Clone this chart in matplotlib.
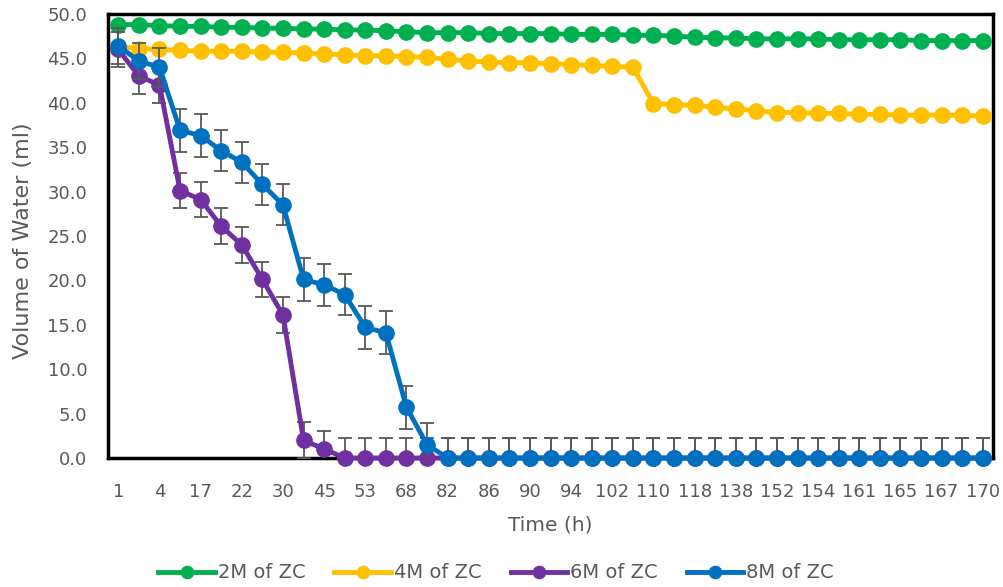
import matplotlib.pyplot as plt
import numpy as np

plt.rcParams['font.family'] = ['DejaVu Sans']

# time categories (only every other one is labelled on the axis)
time_h = [1, 3, 4, 10, 17, 20, 22, 26, 30, 40, 45, 50, 53, 60, 68, 76, 82, 84,
          86, 88, 90, 92, 94, 98, 102, 106, 110, 114, 118, 130, 138, 146, 152,
          153, 154, 158, 161, 163, 165, 166, 167, 168, 170]

zc_2m = [48.8, 48.8, 48.7, 48.6, 48.6, 48.5, 48.5, 48.4, 48.4, 48.3, 48.3,
         48.2, 48.2, 48.1, 48.0, 47.9, 47.9, 47.9, 47.8, 47.8, 47.8, 47.8,
         47.7, 47.7, 47.7, 47.6, 47.6, 47.5, 47.4, 47.3, 47.3, 47.2, 47.2,
         47.2, 47.2, 47.1, 47.1, 47.1, 47.1, 47.0, 47.0, 47.0, 47.0]

zc_4m = [46.3, 46.1, 46.0, 45.9, 45.8, 45.8, 45.8, 45.7, 45.7, 45.6, 45.5,
         45.4, 45.3, 45.3, 45.2, 45.1, 44.9, 44.7, 44.6, 44.5, 44.5, 44.4,
         44.3, 44.2, 44.1, 44.0,
         39.9, 39.8, 39.7, 39.5, 39.3, 39.1, 38.9, 38.9, 38.8, 38.8, 38.7,
         38.7, 38.6, 38.6, 38.6, 38.6, 38.5]

zc_6m = [46.0, 43.0, 42.0, 30.1, 29.1, 26.1, 24.0, 20.1, 16.1, 2.0, 1.0] + [0.0] * 32
err_6m = [2.0, 2.0, 2.0, 2.0, 2.0, 2.0, 2.0, 2.0, 2.0, 2.0, 2.0] + [2.3] * 32

zc_8m = [46.4, 44.7, 44.0, 36.9, 36.3, 34.6, 33.3, 30.8, 28.5, 20.1, 19.5,
         18.4, 14.7, 14.1, 5.7, 1.5] + [0.0] * 27
err_8m = [2.0, 2.0, 2.2, 2.4, 2.4, 2.3, 2.3, 2.3, 2.3, 2.4, 2.4,
          2.3, 2.4, 2.4, 2.4, 2.4] + [2.3] * 27

series = [
    ('2M of ZC', zc_2m, None, '#00B050'),
    ('4M of ZC', zc_4m, None, '#FFC000'),
    ('6M of ZC', zc_6m, err_6m, '#7030A0'),
    ('8M of ZC', zc_8m, err_8m, '#0070C0'),
]

fig = plt.figure(figsize=(10.04, 5.87), dpi=100)
ax = fig.add_axes([0.1076, 0.2198, 0.8815, 0.7564])

x = np.arange(len(time_h))
for i, (name, vals, err, color) in enumerate(series):
    if err is not None:
        ax.errorbar(x, vals, yerr=err, fmt='none', ecolor='#595959',
                    elinewidth=1.3, capsize=5, capthick=1.3, zorder=2 + i * 2)
    ax.plot(x, vals, color=color, linewidth=3.5, marker='o', markersize=11,
            label=name, clip_on=False, zorder=3 + i * 2)

ax.set_xlim(-0.5, len(time_h) - 0.5)
ax.set_ylim(0, 50)
ax.set_yticks(np.arange(0, 50.1, 5))
ax.set_yticklabels([f'{v:.1f}' for v in np.arange(0, 50.1, 5)])
ax.set_xticks(x[::2])
ax.set_xticklabels([str(t) for t in time_h[::2]])
ax.tick_params(axis='both', length=0, labelsize=13, colors='#595959')
ax.tick_params(axis='x', pad=18)
ax.tick_params(axis='y', pad=15)

for sp in ax.spines.values():
    sp.set_linewidth(2.5)
    sp.set_color('black')

ax.set_xlabel('Time (h)', fontsize=14.5, color='#595959')
ax.xaxis.set_label_coords(0.5, -0.13)
ax.set_ylabel('Volume of Water (ml)', fontsize=16, color='#595959')
ax.yaxis.set_label_coords(-0.085, 0.49)

leg = fig.legend(loc='center', ncol=4, frameon=False, fontsize=14,
                 bbox_to_anchor=(0.494, 0.024), handlelength=2.9,
                 columnspacing=1.5, handletextpad=0.15, markerscale=0.8)
for t in leg.get_texts():
    t.set_color('#595959')

fig.savefig('out.png', dpi=100)
